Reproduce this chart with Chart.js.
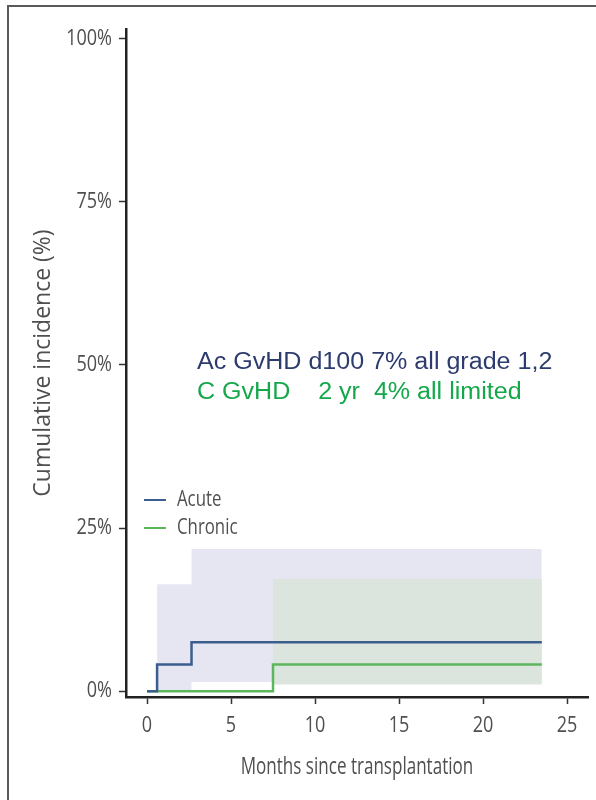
<!DOCTYPE html>
<html>
<head>
<meta charset="utf-8">
<script src="https://cdn.jsdelivr.net/npm/chart.js@4.4.1/dist/chart.umd.min.js"></script>
<style>
  html, body { margin: 0; padding: 0; background: #fff; }
  #wrap { position: relative; width: 596px; height: 800px; overflow: hidden; }
  #chart { position: absolute; left: 0; top: 0; }
  #frame { position: absolute; left: 7px; top: 5px; right: -4px; bottom: -4px;
           border-top: 2px solid #5a5a5a; border-left: 2px solid #5a5a5a; pointer-events: none; }
</style>
</head>
<body>
<div id="wrap">
  <canvas id="chart" width="596" height="800"></canvas>
  <div id="frame"></div>
</div>
<script>
// Données (mois, incidence en %)
const acuteX = [0, 0.6, 2.65, 23.5];
const acuteY = [0, 4.1, 7.5, 7.5];
const chronicX = [0, 7.5, 23.5];
const chronicY = [0, 4.1, 4.1];

// Intervalles de confiance
const acuteBandX = [0.6, 2.65, 23.5];
const acuteBandHigh = [16.4, 21.8, 21.8];
const acuteBandLow = [0, 1.4, 1.4];
const chronicBandX = [7.5, 23.5];
const chronicBandHigh = [17.2, 17.2];
const chronicBandLow = [1.0, 1.0];

const xTicks = [0, 5, 10, 15, 20, 25];
const xTickLabels = ['0', '5', '10', '15', '20', '25'];
const yTicks = [0, 25, 50, 75, 100];
const yTickLabels = ['0%', '25%', '50%', '75%', '100%'];

const xTitle = 'Months since transplantation';
const yTitle = 'Cumulative incidence (%)';
const legendLabels = ['Acute', 'Chronic'];
const noteLines = ['Ac GvHD d100 7% all grade 1,2', 'C GvHD    2 yr  4% all limited'];

const blue = '#3c5e8e';
const green = '#5cb65c';
const grey = '#4f4f4f';
const sans = '"Open Sans", "DejaVu Sans", sans-serif';

function pts(xs, ys) {
    return xs.map((x, i) => ({ x: x, y: ys[i] }));
}

// Texte étroit : on compresse horizontalement
function narrowText(ctx, text, x, y, sx, align) {
    ctx.save();
    ctx.translate(x, y);
    ctx.scale(sx, 1);
    ctx.textAlign = align;
    ctx.fillText(text, 0, 0);
    ctx.restore();
}

// Étiquettes des axes, titres, légende et annotation
const textPlugin = {
    id: 'texts',
    afterDraw(chart) {
        const ctx = chart.ctx;
        const xs = chart.scales.x;
        const ys = chart.scales.y;
        ctx.save();
        ctx.fillStyle = grey;
        ctx.font = '22px ' + sans;
        ctx.textBaseline = 'middle';
        yTicks.forEach((v, i) => {
            narrowText(ctx, yTickLabels[i], ys.right - 14, ys.getPixelForValue(v), 0.82, 'right');
        });
        xTicks.forEach((v, i) => {
            narrowText(ctx, xTickLabels[i], xs.getPixelForValue(v), xs.top + 29, 0.82, 'center');
        });

        // titres
        ctx.textBaseline = 'alphabetic';
        ctx.font = '24px ' + sans;
        narrowText(ctx, xTitle, (xs.left + xs.right) / 2, 774, 0.71, 'center');
        ctx.save();
        ctx.translate(50, (ys.top + ys.bottom) / 2);
        ctx.rotate(-Math.PI / 2);
        ctx.font = '23px ' + sans;
        narrowText(ctx, yTitle, 0, 0, 1.0, 'center');
        ctx.restore();

        // légende
        const colors = [blue, green];
        ctx.font = '21px ' + sans;
        ctx.textBaseline = 'middle';
        legendLabels.forEach((lab, i) => {
            const y = 500 + i * 28;
            ctx.strokeStyle = colors[i];
            ctx.lineWidth = 2;
            ctx.beginPath();
            ctx.moveTo(144, y);
            ctx.lineTo(166, y);
            ctx.stroke();
            ctx.fillStyle = grey;
            narrowText(ctx, lab, 177, y, 0.8, 'left');
        });

        // annotation
        const noteColors = ['#2d3b6e', '#14a84b'];
        ctx.font = '23px "Liberation Sans", Arial, sans-serif';
        ctx.textBaseline = 'alphabetic';
        noteLines.forEach((t, i) => {
            ctx.fillStyle = noteColors[i];
            narrowText(ctx, t, 197, 369 + i * 30, 1.09, 'left');
        });
        ctx.restore();
    }
};

const ctx = document.getElementById('chart').getContext('2d');
const myChart = new Chart(ctx, {
    type: 'line',
    data: {
        datasets: [
            { label: 'Acute', data: pts(acuteX, acuteY), borderColor: blue, borderWidth: 2.5,
              stepped: true, pointRadius: 0, fill: false, order: 0 },
            { label: 'Chronic', data: pts(chronicX, chronicY), borderColor: green, borderWidth: 2.5,
              stepped: true, pointRadius: 0, fill: false, order: 0 },
            { label: 'acuteHigh', data: pts(acuteBandX, acuteBandHigh), borderWidth: 0, borderColor: 'rgba(0,0,0,0)',
              backgroundColor: '#e6e6f2', stepped: true, pointRadius: 0, fill: 3, order: 2 },
            { label: 'acuteLow', data: pts(acuteBandX, acuteBandLow), borderWidth: 0, borderColor: 'rgba(0,0,0,0)',
              stepped: true, pointRadius: 0, fill: false, order: 2 },
            { label: 'chronicHigh', data: pts(chronicBandX, chronicBandHigh), borderWidth: 0, borderColor: 'rgba(0,0,0,0)',
              backgroundColor: '#dce4de', stepped: true, pointRadius: 0, fill: 5, order: 1 },
            { label: 'chronicLow', data: pts(chronicBandX, chronicBandLow), borderWidth: 0, borderColor: 'rgba(0,0,0,0)',
              stepped: true, pointRadius: 0, fill: false, order: 1 }
        ]
    },
    options: {
        responsive: false,
        animation: false,
        layout: { padding: { top: 29, right: 8, left: 0, bottom: 0 } },
        plugins: { legend: { display: false }, tooltip: { enabled: false } },
        scales: {
            x: {
                type: 'linear',
                min: -1.25,
                max: 26.25,
                afterBuildTicks: s => { s.ticks = xTicks.map(v => ({ value: v })); },
                afterFit: s => { s.height = 103; },
                grid: { drawOnChartArea: false, drawTicks: true, tickLength: 7, color: '#333', tickWidth: 1.5 },
                border: { display: true, color: '#222', width: 2.5 },
                ticks: { display: false },
                title: { display: false }
            },
            y: {
                type: 'linear',
                min: -0.9,
                max: 101.5,
                afterBuildTicks: s => { s.ticks = yTicks.map(v => ({ value: v })); },
                afterFit: s => { s.width = 126; },
                grid: { drawOnChartArea: false, drawTicks: true, tickLength: 7, color: '#333', tickWidth: 1.5 },
                border: { display: true, color: '#222', width: 2.5 },
                ticks: { display: false },
                title: { display: false }
            }
        }
    },
    plugins: [textPlugin]
});
</script>
</body>
</html>
